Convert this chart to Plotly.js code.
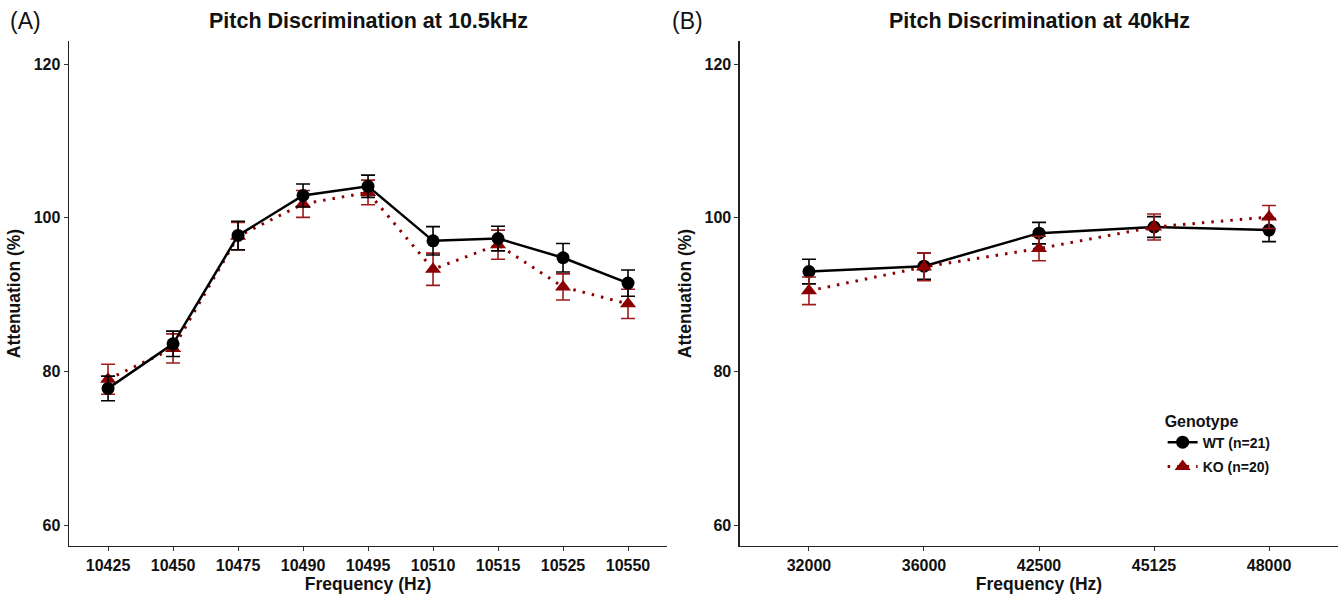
<!DOCTYPE html>
<html>
<head>
<meta charset="utf-8">
<script src="https://cdn.plot.ly/plotly-3.0.1.min.js"></script>
<style>html,body{margin:0;padding:0;background:#fff;}#chart{width:1341px;height:595px;}</style>
</head>
<body>
<div id="chart"></div>
<script>
// Panel A (10.5 kHz)
const freqA = ['10425','10450','10475','10490','10495','10510','10515','10525','10550'];
const wtA    = [77.8, 83.6, 97.7, 102.9, 104.1, 97.0, 97.3, 94.8, 91.5];
const wtAerr = [1.6, 1.65, 1.85, 1.5, 1.45, 1.85, 1.6, 1.85, 1.7];
const koA    = [79.0, 83.0, 97.6, 101.8, 103.3, 93.3, 96.5, 91.0, 88.8];
const koAerr = [1.95, 1.9, 1.8, 1.75, 1.6, 2.1, 1.9, 1.7, 1.9];
// Panel B (40 kHz)
const freqB = ['32000','36000','42500','45125','48000'];
const wtB    = [93.0, 93.7, 98.0, 98.8, 98.4];
const wtBerr = [1.6, 1.7, 1.4, 1.35, 1.5];
const koB    = [90.5, 93.6, 96.0, 98.8, 100.1];
const koBerr = [1.8, 1.8, 1.6, 1.7, 1.5];
const groups = ['WT (n=21)', 'KO (n=20)'];

const FONT = 'Liberation Sans, Arial, sans-serif';
const WT_COL = '#000000';
const KO_COL = '#8B0000';
const KO_ERR = '#9B1C1C';

function wtTrace(x, y, e, xa, ya, show) {
  return {x: x, y: y, xaxis: xa, yaxis: ya, type: 'scatter', mode: 'lines+markers',
    name: groups[0], legendgroup: 'wt', showlegend: show,
    line: {color: WT_COL, width: 2.5},
    marker: {symbol: 'circle', size: 13, color: WT_COL},
    error_y: {type: 'data', array: e, visible: true, color: WT_COL, thickness: 1.6, width: 7}};
}
function koTrace(x, y, e, xa, ya, show) {
  return {x: x, y: y, xaxis: xa, yaxis: ya, type: 'scatter', mode: 'lines+markers',
    name: groups[1], legendgroup: 'ko', showlegend: show,
    line: {color: KO_COL, width: 3, dash: '2.5px,7px'},
    marker: {symbol: 'triangle-up', size: 14, color: KO_COL},
    error_y: {type: 'data', array: e, visible: true, color: KO_ERR, thickness: 1.6, width: 7}};
}

const data = [
  koTrace(freqA, koA, koAerr, 'x', 'y', false),
  wtTrace(freqA, wtA, wtAerr, 'x', 'y', false),
  wtTrace(freqB, wtB, wtBerr, 'x2', 'y2', true),
  koTrace(freqB, koB, koBerr, 'x2', 'y2', true)
];

const yCommon = {range: [57.3, 123], tickvals: [60, 80, 100, 120], showgrid: false, zeroline: false,
  showline: true, linecolor: '#222', linewidth: 1.5, ticks: 'outside', ticklen: 4, tickcolor: '#333',
  tickfont: {family: FONT, size: 16, color: '#111', weight: 'bold'},
  title: {text: 'Attenuation (%)', font: {family: FONT, size: 17.5, color: '#111', weight: 'bold'}, standoff: 8}};
const xCommon = {type: 'category', showgrid: false, zeroline: false,
  showline: true, linecolor: '#222', linewidth: 1.5, ticks: 'outside', ticklen: 4, tickcolor: '#333',
  tickfont: {family: FONT, size: 16, color: '#111', weight: 'bold'},
  title: {text: 'Frequency (Hz)', font: {family: FONT, size: 17.5, color: '#111', weight: 'bold'}, standoff: 2}};

const layout = {
  width: 1341, height: 595,
  margin: {l: 0, r: 0, t: 0, b: 0},
  paper_bgcolor: '#fff', plot_bgcolor: '#fff',
  showlegend: true,
  xaxis: Object.assign({}, xCommon, {domain: [0.0515, 0.4974], range: [-0.6, 8.6], anchor: 'y'}),
  yaxis: Object.assign({}, yCommon, {domain: [0.0824, 0.9311], anchor: 'x'}),
  xaxis2: Object.assign({}, xCommon, {domain: [0.5518, 0.9978], range: [-0.6, 4.6], anchor: 'y2'}),
  yaxis2: Object.assign({}, yCommon, {domain: [0.0824, 0.9311], anchor: 'x2'}),
  legend: {x: 0.867, y: 0.318, xanchor: 'left', yanchor: 'top', bgcolor: 'rgba(0,0,0,0)',
    itemwidth: 30,
    title: {text: 'Genotype', font: {family: FONT, size: 16, color: '#111', weight: 'bold'}},
    font: {family: FONT, size: 14, color: '#111', weight: 'bold'}, tracegroupgap: 3},
  annotations: [
    {text: 'Pitch Discrimination at 10.5kHz', xref: 'paper', yref: 'paper', x: 0.2745, y: 1 - 21/595,
     showarrow: false, xanchor: 'center', yanchor: 'middle', font: {family: FONT, size: 21.5, color: '#111', weight: 'bold'}},
    {text: 'Pitch Discrimination at 40kHz', xref: 'paper', yref: 'paper', x: 0.7748, y: 1 - 21/595,
     showarrow: false, xanchor: 'center', yanchor: 'middle', font: {family: FONT, size: 21.5, color: '#111', weight: 'bold'}},
    {text: '(A)', xref: 'paper', yref: 'paper', x: 8/1341, y: 1 - 21/595,
     showarrow: false, xanchor: 'left', yanchor: 'middle', font: {family: FONT, size: 23, color: '#111'}},
    {text: '(B)', xref: 'paper', yref: 'paper', x: 670/1341, y: 1 - 21/595,
     showarrow: false, xanchor: 'left', yanchor: 'middle', font: {family: FONT, size: 23, color: '#111'}}
  ]
};

Plotly.newPlot('chart', data, layout, {displayModeBar: false, staticPlot: true});
</script>
</body>
</html>
